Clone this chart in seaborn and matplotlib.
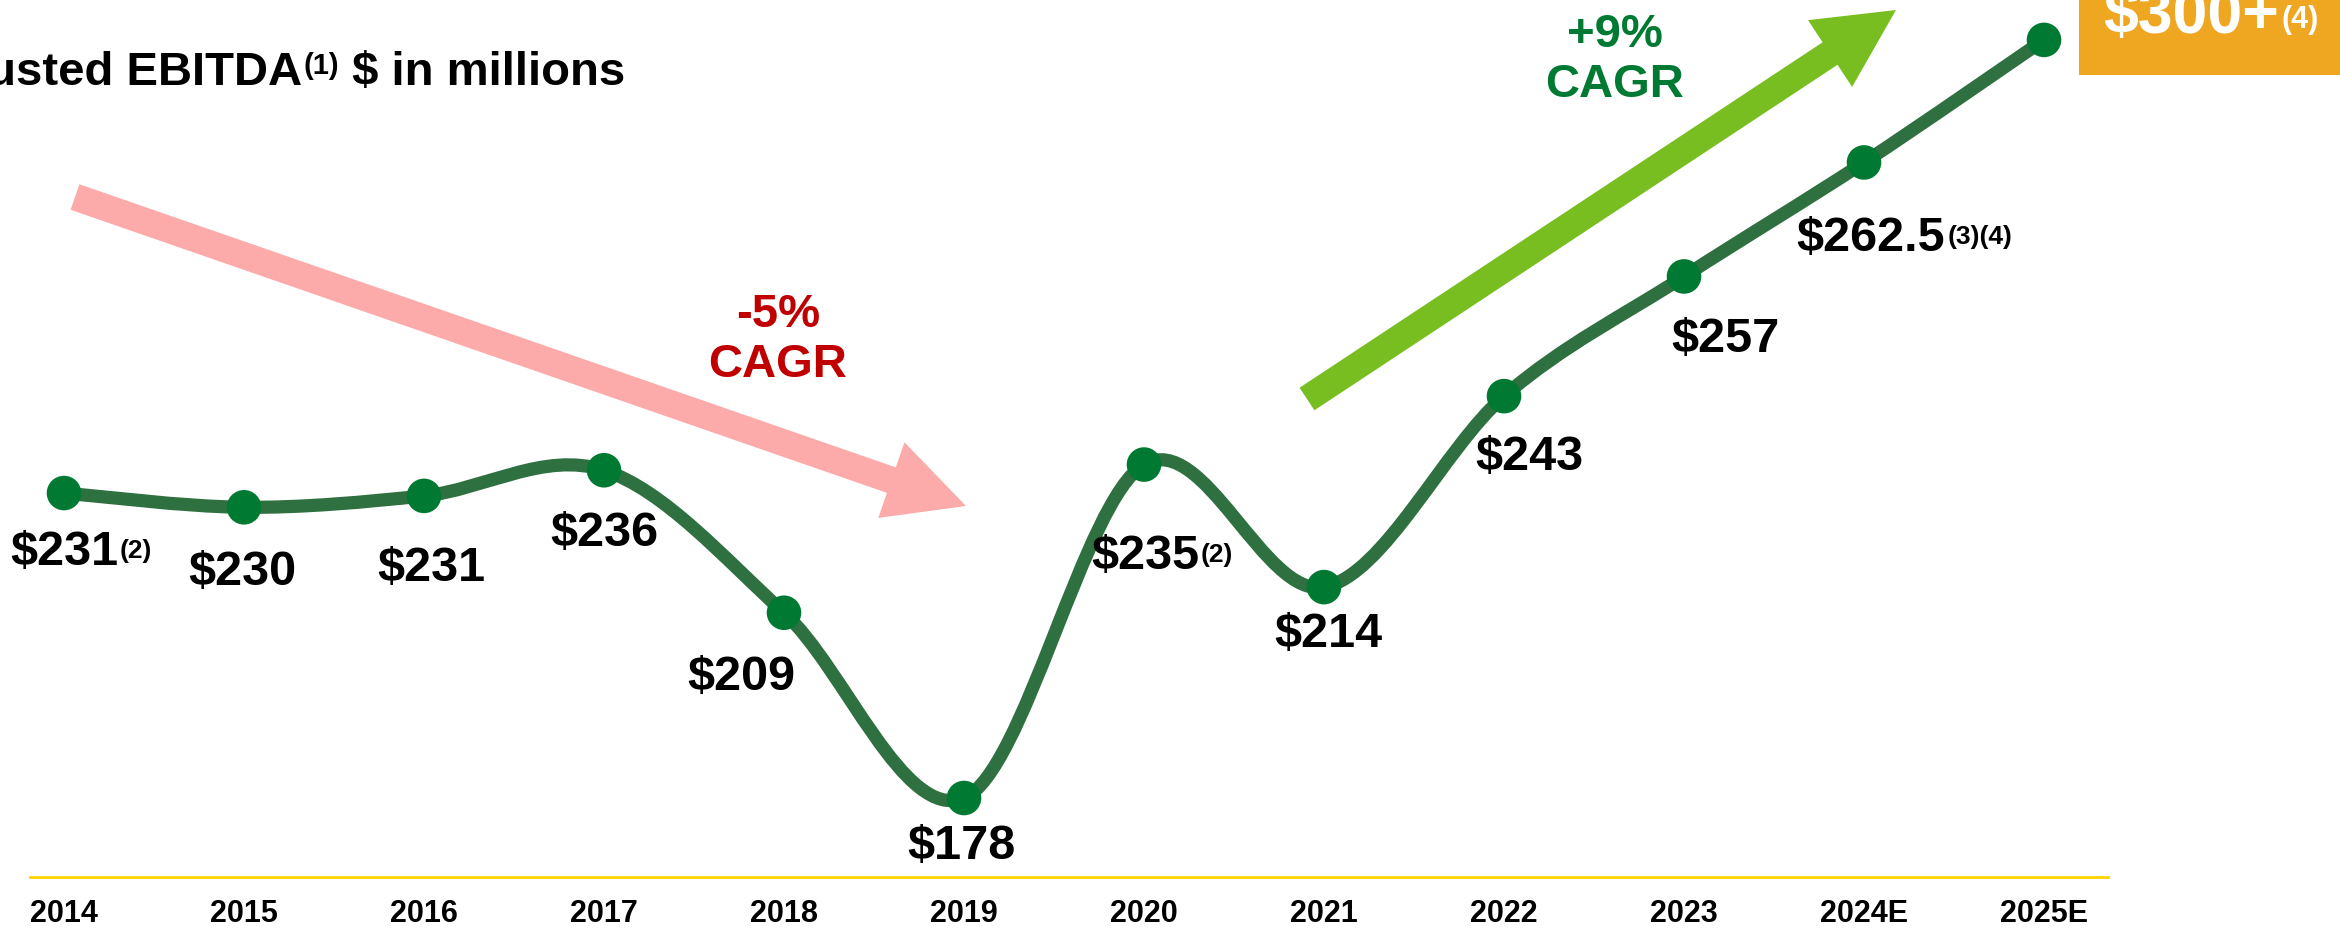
import numpy as np
import pandas as pd
import matplotlib
matplotlib.use("Agg")
import matplotlib.pyplot as plt
import seaborn as sns
from matplotlib.path import Path
from matplotlib.patches import PathPatch, FancyArrow, Rectangle
from matplotlib.text import Annotation
from matplotlib.transforms import IdentityTransform

# Values
years = ["2014", "2015", "2016", "2017", "2018", "2019",
         "2020", "2021", "2022", "2023", "2024E", "2025E"]
# height of each point as it is drawn on the slide ($ in millions)
ebitda_drawn = [231.5, 229, 231, 235.5, 210.5, 178,
                236.5, 215, 248.5, 269.5, 289.5, 311]
# printed data labels and their footnote marks
value_labels = ["$231", "$230", "$231", "$236", "$209", "$178",
                "$235", "$214", "$243", "$257", "$262.5", "$300+"]
label_notes = ["(2)", "", "", "", "", "", "(2)", "", "", "", "(3)(4)", "(4)"]
cagr_down = "-5%\nCAGR"
cagr_up = "+9%\nCAGR"

# Style
sns.set_style("white")
plt.rcParams["font.family"] = ["Liberation Sans", "DejaVu Sans"]
plt.rcParams["font.weight"] = "bold"
plt.rcParams["text.color"] = "black"
plt.rcParams["xtick.color"] = "black"
plt.rcParams["axes.labelcolor"] = "black"

LINE = "#2F7041"
DOT = "#007A33"
GOLD = "#FFD200"
PINK = "#FDAAAA"
LIME = "#78BE21"
RED = "#C00000"
ORANGE = "#EFA722"

W, H = 2340, 933
fig = plt.figure(figsize=(W / 100, H / 100), dpi=100)
fig.patch.set_facecolor("white")


def fx(x):
    return x / W


def fy(y):
    return 1 - y / H


# axes: bottom spine is the gold baseline
ax = fig.add_axes([fx(30), (H - 877) / H, 2078 / W, 877 / H])
ax.patch.set_alpha(0)
xlim = (-34 / 180, 11 + 64 / 180)
ylim = (178 - 79 / 5.7, 178 + 798 / 5.7)
ax.set_xlim(*xlim)
ax.set_ylim(*ylim)

df = pd.DataFrame({"idx": np.arange(len(years)), "year": years,
                   "value": ebitda_drawn})

# smoothed line (Catmull-Rom as bezier, computed in screen space)
pts = ax.transData.transform(np.column_stack([df["idx"], df["value"]]))
ext = np.vstack([pts[0], pts, pts[-1]])
verts = [pts[0]]
codes = [Path.MOVETO]
for i in range(len(pts) - 1):
    p0, p1, p2, p3 = ext[i], ext[i + 1], ext[i + 2], ext[i + 3]
    verts += [p1 + (p2 - p0) / 6, p2 - (p3 - p1) / 6, p2]
    codes += [Path.CURVE4] * 3
verts = ax.transData.inverted().transform(np.array(verts))
ax.add_patch(PathPatch(Path(verts, codes), fill=False, lw=9.5,
                       edgecolor=LINE, capstyle="butt", joinstyle="round",
                       zorder=2))

sns.scatterplot(data=df, x="idx", y="value", s=620, color=DOT,
                edgecolor="none", linewidth=0, zorder=3, ax=ax, legend=False)

ax.set_xlim(*xlim)
ax.set_ylim(*ylim)
ax.set_xlabel("")
ax.set_ylabel("")
ax.set_yticks([])
ax.set_xticks(df["idx"], years, fontsize=22, fontweight="bold")
ax.tick_params(axis="x", length=0, pad=16, colors="black")
for side in ["left", "right", "top"]:
    ax.spines[side].set_visible(False)
ax.spines["bottom"].set_color(GOLD)
ax.spines["bottom"].set_linewidth(2)

# data labels (pixel offsets from each dot)
label_offsets = [(0, 59), (-2, 65), (7, 73), (0, 63), (-43, 65), (-3, 49),
                 (1, 92), (4, 47), (25, 61), (41, 63), (7, 76)]
for i, (dx, dy) in enumerate(label_offsets):
    t = ax.annotate(value_labels[i], xy=(i, ebitda_drawn[i]),
                    xytext=(dx, -dy), textcoords="offset pixels",
                    ha="center", va="center", fontsize=35,
                    fontweight="bold", color="black", zorder=4)
    if label_notes[i]:
        ax.annotate(label_notes[i], xy=(1, 1), xycoords=t,
                    xytext=(2, -9), textcoords="offset pixels",
                    ha="left", va="top", fontsize=19, fontweight="bold",
                    color="black")

# 2025E call-out box
fig.add_artist(Rectangle((fx(2079), fy(75)), (W - 2079) / W, 80 / H,
                         transform=fig.transFigure, facecolor=ORANGE,
                         edgecolor="none", zorder=5))
big = fig.text(fx(2103), fy(33), value_labels[-1], color="white",
               fontsize=45, fontweight="bold", ha="left", va="baseline",
               zorder=6)
fig.add_artist(Annotation(label_notes[-1], xy=(1, 1), xycoords=big,
                          xytext=(3, -18), textcoords="offset pixels",
                          ha="left", va="top", fontsize=22,
                          fontweight="bold", color="white", zorder=7))

# title (cut at the left edge like the slide)
title = fig.text(fx(-89), fy(85), "Adjusted EBITDA", fontsize=34,
                 fontweight="bold", ha="left", va="baseline", color="black")
sup = Annotation("(1)", xy=(1, 1), xycoords=title, xytext=(1, -1),
                 textcoords="offset pixels", ha="left", va="top",
                 fontsize=21, fontweight="bold", color="black")
fig.add_artist(sup)
fig.add_artist(Annotation(" $ in millions", xy=(1, 0), xycoords=(sup, title),
                          ha="left", va="bottom", fontsize=34,
                          fontweight="bold", color="black"))

# CAGR arrows
fig.add_artist(FancyArrow(75, H - 197, 891, -309, width=27, head_width=80,
                          head_length=79, length_includes_head=True,
                          transform=IdentityTransform(), color=PINK,
                          lw=0, zorder=1))
fig.add_artist(FancyArrow(1307, H - 399, 589, 389, width=27, head_width=80,
                          head_length=79, length_includes_head=True,
                          transform=IdentityTransform(), color=LIME,
                          lw=0, zorder=1))
fig.text(fx(778), fy(340), cagr_down, color=RED, fontsize=34,
         fontweight="bold", ha="center", va="center", linespacing=1.15)
fig.text(fx(1615), fy(60), cagr_up, color=DOT, fontsize=34,
         fontweight="bold", ha="center", va="center", linespacing=1.2)

fig.savefig("out.png", dpi=100)
